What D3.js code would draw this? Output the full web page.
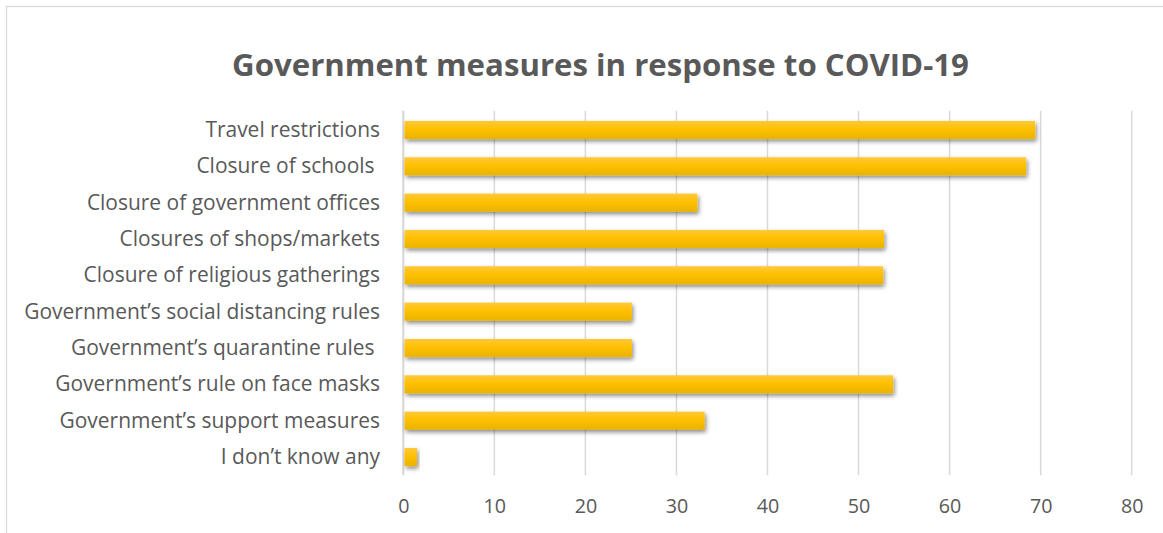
<!DOCTYPE html>
<html>
<head>
<meta charset="utf-8">
<script src="https://cdn.jsdelivr.net/npm/d3@7"></script>
<style>
  html, body { margin: 0; padding: 0; background: #ffffff; }
  svg { display: block; }
  text { white-space: pre; }
</style>
</head>
<body>
<script>
// Survey answers: share of respondents (%) aware of each measure
const categories = [
  "Travel restrictions",
  "Closure of schools ",
  "Closure of government offices",
  "Closures of shops/markets",
  "Closure of religious gatherings",
  "Government\u2019s social distancing rules",
  "Government\u2019s quarantine rules ",
  "Government\u2019s rule on face masks",
  "Government\u2019s support measures",
  "I don\u2019t know any"
];
const values = [69.4, 68.4, 32.3, 52.8, 52.7, 25.1, 25.1, 53.8, 33.1, 1.5];
const xTicks = [0, 10, 20, 30, 40, 50, 60, 70, 80];
const title = "Government measures in response to COVID-19";

const W = 1163, H = 533;
const textColor = "#595959";
const gridColor = "#D9D9D9";
const fontFamily = "'Open Sans', 'Noto Sans', sans-serif";

const svg = d3.select("body").append("svg")
  .attr("width", W).attr("height", H);

const defs = svg.append("defs");
const grad = defs.append("linearGradient")
  .attr("id", "barFill").attr("x1", 0).attr("y1", 0).attr("x2", 0).attr("y2", 1);
grad.append("stop").attr("offset", "0%").attr("stop-color", "#FFC93A");
grad.append("stop").attr("offset", "45%").attr("stop-color", "#FFC000");
grad.append("stop").attr("offset", "100%").attr("stop-color", "#E9B300");

const shadow = defs.append("filter").attr("id", "barShadow")
  .attr("x", "-10%").attr("y", "-40%").attr("width", "130%").attr("height", "200%");
shadow.append("feDropShadow")
  .attr("dx", 1.5).attr("dy", 2.5).attr("stdDeviation", 2)
  .attr("flood-color", "#000").attr("flood-opacity", 0.45);

// Chart frame (extends past the right and bottom edges)
svg.append("rect")
  .attr("x", 6.5).attr("y", 6.5).attr("width", W + 50).attr("height", H + 50)
  .attr("fill", "#ffffff").attr("stroke", gridColor).attr("stroke-width", 1.3);

// Fit a font size so that a string spans a target width
function fitSize(str, weight, targetWidth) {
  const t = svg.append("text")
    .attr("font-family", fontFamily).attr("font-weight", weight)
    .attr("font-size", 20).text(str);
  const w = t.node().getComputedTextLength();
  t.remove();
  return 20 * targetWidth / w;
}

const x = d3.scaleLinear().domain([0, 80]).range([403.3, 1131.7]);
const y = d3.scaleBand().domain(categories).range([111.8, 475.2])
  .paddingInner(0.5).paddingOuter(0.25);

// Vertical gridlines
const grid = svg.append("g");
grid.selectAll("line").data(xTicks).join("line")
  .attr("x1", d => x(d)).attr("x2", d => x(d))
  .attr("y1", y.range()[0] - 1).attr("y2", y.range()[1])
  .attr("stroke", gridColor)
  .attr("stroke-width", d => d === 0 ? 2.2 : 1.5);

// Bars
svg.append("g").selectAll("rect").data(categories).join("rect")
  .attr("x", x(0) + 1.2)
  .attr("y", d => y(d))
  .attr("width", (d, i) => x(values[i]) - x(0) - 1.2)
  .attr("height", y.bandwidth())
  .attr("fill", "url(#barFill)")
  .attr("filter", "url(#barShadow)");

// Category labels
const longest = categories.reduce((a, b) => a.length > b.length ? a : b);
const catSize = fitSize("Government\u2019s social distancing rules", 400, 356);
const yAxis = d3.axisLeft(y).tickSize(0).tickPadding(0);
const gy = svg.append("g").attr("transform", "translate(380,0)").call(yAxis);
gy.select(".domain").remove();
gy.selectAll("text")
  .attr("x", 0)
  .attr("dy", "0.34em")
  .attr("fill", textColor)
  .attr("font-family", fontFamily)
  .attr("font-size", catSize);

// Value axis labels
const tickSize = fitSize("10", 400, 23) * 0.98;
const xAxis = d3.axisBottom(x).tickValues(xTicks).tickSize(0).tickPadding(0)
  .tickFormat(d3.format("d"));
const gx = svg.append("g").attr("transform", "translate(0,513.3)").call(xAxis);
gx.select(".domain").remove();
gx.selectAll("text")
  .attr("y", 0).attr("dy", 0)
  .attr("fill", textColor)
  .attr("font-family", fontFamily)
  .attr("font-size", tickSize);

// Title
const titleSize = fitSize(title, 700, 737);
svg.append("text")
  .attr("x", 600.5).attr("y", 76)
  .attr("text-anchor", "middle")
  .attr("fill", textColor)
  .attr("font-family", fontFamily)
  .attr("font-weight", 700)
  .attr("font-size", titleSize)
  .text(title);
</script>
</body>
</html>
